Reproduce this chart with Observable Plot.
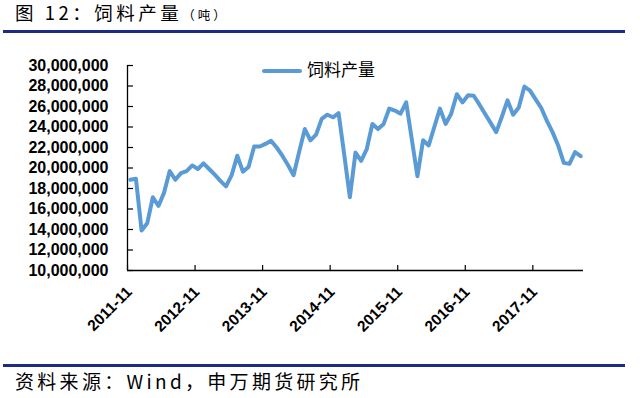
<!DOCTYPE html>
<html><head><meta charset="utf-8">
<script src="https://cdn.jsdelivr.net/npm/d3@7"></script>
<script src="https://cdn.jsdelivr.net/npm/@observablehq/plot@0.6"></script>
<style>
body{margin:0;background:#fff;width:640px;height:398px;position:relative;overflow:hidden;font-family:"Noto Sans CJK SC","Noto Sans",sans-serif;color:#000;}
#title{position:absolute;left:15px;top:0px;font-size:18.5px;line-height:24px;letter-spacing:3.5px;white-space:nowrap;}
#title .unit{font-size:12.5px;letter-spacing:3px;}
.rule{position:absolute;left:3px;width:622px;height:3px;background:#1d2a86;}
#chart{position:absolute;left:0;top:36px;}
#chart svg{overflow:visible;}
#legend{position:absolute;left:262px;top:58px;white-space:nowrap;}
#legend .sw{position:absolute;left:0;top:11px;width:40px;height:4px;background:#5B9BD5;border-radius:2px;}
#legend .lb{position:absolute;left:45px;top:0;font-size:17px;line-height:22px;}
#source{position:absolute;left:15px;top:370px;font-size:19px;line-height:22px;letter-spacing:3.3px;white-space:nowrap;}
</style></head><body>
<div id="title">图 12：饲料产量<span class="unit">（吨）</span></div>
<div class="rule" style="top:30px"></div>
<div id="chart"></div>
<div id="legend"><div class="sw"></div><div class="lb">饲料产量</div></div>
<div class="rule" style="top:364px"></div>
<div id="source">资料来源：Wind，申万期货研究所</div>
<script>
// monthly categories: 2011-11 … 2018-07
const months = d3.utcMonth.range(new Date(Date.UTC(2011, 10, 1)), new Date(Date.UTC(2018, 7, 1))).map(d3.utcFormat("%Y-%m"));
// feed output, million tonnes
const output = [
  18.85, 18.95, 13.9, 14.6, 17.15, 16.3, 17.6, 19.7, 18.85, 19.5,
  19.7, 20.25, 19.9, 20.45, 19.9, 19.35, 18.75, 18.2, 19.3, 21.2,
  19.65, 20.1, 22.1, 22.1, 22.35, 22.65, 22.0, 21.2, 20.3, 19.3,
  21.6, 23.8, 22.7, 23.25, 24.8, 25.2, 24.95, 25.35, 21.3, 17.15,
  21.5, 20.7, 21.85, 24.3, 23.8, 24.3, 25.8, 25.6, 25.3, 26.4,
  22.8, 19.2, 22.7, 22.2, 24.0, 25.8, 24.3, 25.3, 27.2, 26.4,
  27.1, 27.05, 26.2, 25.3, 24.4, 23.5, 25.0, 26.6, 25.2, 25.9,
  27.95, 27.55, 26.7, 25.85, 24.6, 23.5, 22.2, 20.5, 20.4, 21.55,
  21.15
];
const xTickLabels = ["2011-11","2012-11","2013-11","2014-11","2015-11","2016-11","2017-11"];
const yTicks = [10e6,12e6,14e6,16e6,18e6,20e6,22e6,24e6,26e6,28e6,30e6];

const data = months.map((m, i) => ({i, m, v: output[i] * 1e6}));
const tickIdx = xTickLabels.map(l => months.indexOf(l));
const boundaries = tickIdx.map(i => i - 0.5);

const W = 640, H = 310, ML = 127, MR = 57, MT = 29, MB = 76;
const PW = W - ML - MR, PH = H - MT - MB;

const chart = Plot.plot({
  width: W, height: H,
  marginLeft: ML, marginRight: MR, marginTop: MT, marginBottom: MB,
  style: {fontFamily: "'Liberation Sans', Arial, sans-serif", color: "#000", background: "transparent"},
  x: {type: "linear", domain: [-0.5, months.length - 0.5]},
  y: {domain: [10e6, 30e6]},
  marks: [
    Plot.axisY(yTicks, {tickSize: 0, tickPadding: 19, tickFormat: d3.format(","), fontSize: 16, fontWeight: "bold", fill: "#000", label: null}),
    Plot.axisX(tickIdx, {tickSize: 0, tickPadding: 19, tickRotate: -45, tickFormat: i => months[i], fontSize: 15.5, fontWeight: "bold", fill: "#000", label: null, dx: -1}),
    Plot.tickY(yTicks, {y: d => d, insetRight: PW - 6, stroke: "#000", strokeWidth: 1.2}),
    Plot.tickX(boundaries, {x: d => d, insetTop: PH - 5, stroke: "#000", strokeWidth: 1.2}),
    Plot.ruleX([-0.5], {stroke: "#000", strokeWidth: 1.3}),
    Plot.ruleY([10e6], {stroke: "#000", strokeWidth: 1.3}),
    Plot.line(data, {x: "i", y: "v", stroke: "#5B9BD5", strokeWidth: 4, strokeLinejoin: "round", strokeLinecap: "round"})
  ]
});
document.getElementById("chart").appendChild(chart);
</script>
</body></html>
